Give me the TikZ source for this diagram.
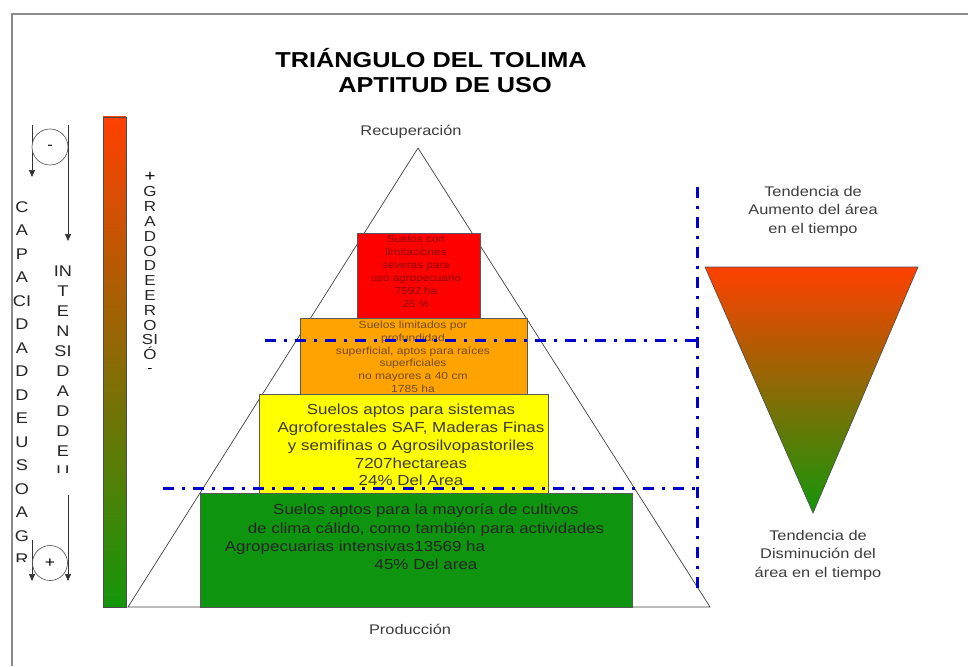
\documentclass[tikz,border=0pt]{standalone}
\usepackage{fontspec}
\setmainfont{Liberation Sans}[FakeStretch=1.17]
\usetikzlibrary{arrows.meta}

\definecolor{soilgreen}{RGB}{14,148,14}
\definecolor{soilyellow}{RGB}{255,255,0}
\definecolor{soilorange}{RGB}{255,163,0}
\definecolor{soilred}{RGB}{255,0,0}
\definecolor{gradtop}{RGB}{255,64,0}
\definecolor{gradmid}{RGB}{200,95,0}
\definecolor{gradbot}{RGB}{20,150,10}
\definecolor{limitblue}{RGB}{0,0,205}
\definecolor{labelgray}{RGB}{60,60,60}

\begin{document}
\begin{tikzpicture}%
    [x=1pt, y=-1pt,
    soilbox/.style={draw=black!65, line width=0.8pt, inner sep=0pt, anchor=north west},
    soiltext/.style={align=center, inner sep=0pt, anchor=north},
    vtext/.style={align=center, inner sep=0pt, anchor=north, text=black!85},
    ring/.style={circle, draw=black!70, fill=white, line width=0.6pt, inner sep=0pt},
    flow/.style={-{Triangle[length=7pt,width=6pt]}, black!80, line width=0.6pt},
    limit/.style={draw=limitblue, line width=3pt, dash pattern=on 11pt off 8pt on 3pt off 8pt},
    trend/.style={align=center, inner sep=0pt, text=labelgray, font=\fontsize{14}{18.5}\selectfont}]

    \useasboundingbox (0,0) rectangle (968,666);

    % frame
    \draw [black!45, line width=2pt] (12,666) -- (12,14) -- (968,14);

    % title
    \node [font=\bfseries\fontsize{21.6}{25}\selectfont, inner sep=0pt] (title1) at (431,58) {TRIÁNGULO DEL TOLIMA};
    \node [font=\bfseries\fontsize{21.6}{25}\selectfont, inner sep=0pt] (title2) at (445,85) {APTITUD DE USO};

    % erosion bar
    \shade [top color=gradtop, middle color=gradmid, bottom color=gradbot, draw=black!70, line width=0.6pt]
        (103,117) rectangle (126,607);

    % left columns
    \begin{scope}
        \clip (0,190) rectangle (45,561);
        \node [vtext, font=\fontsize{15.5}{23.5}\selectfont] (capacidad) at (22,201)
            {C\\A\\P\\A\\CI\\D\\A\\D\\D\\E\\U\\S\\O\\A\\G\\R};
    \end{scope}
    \begin{scope}
        \clip (45,250) rectangle (90,472);
        \node [vtext, font=\fontsize{15.5}{20}\selectfont] (intensidad) at (63,266)
            {IN\\T\\E\\N\\SI\\D\\A\\D\\D\\E\\U};
    \end{scope}
    \node [inner sep=0pt, font=\fontsize{16}{16}\selectfont] (plus) at (150,177) {+};
    \begin{scope}
        \clip (130,184) rectangle (175,358);
        \node [vtext, font=\fontsize{14.5}{14.8}\selectfont] (erosion) at (150,186.5)
            {G\\R\\A\\D\\O\\D\\E\\E\\R\\O\\SI\\Ó};
    \end{scope}
    \node [inner sep=0pt, font=\fontsize{13}{13}\selectfont] (minus) at (150,371) {-};

    % circles and arrows
    \coordinate (capA) at (32,125);
    \coordinate (capB) at (32,177);
    \coordinate (intA) at (68,125);
    \coordinate (intB) at (68,241);
    \coordinate (capC) at (32,540);
    \coordinate (capD) at (32,581);
    \coordinate (intC) at (68,495);
    \coordinate (intD) at (68,581);
    \draw [flow] (capA) -- (capB);
    \draw [flow] (intA) -- (intB);
    \draw [flow] (capC) -- (capD);
    \draw [flow] (intC) -- (intD);
    \node [ring, minimum size=36pt, font=\fontsize{14}{14}\selectfont] (less) at (50,147) {-};
    \node [ring, minimum size=35pt, font=\fontsize{15}{15}\selectfont] (more) at (50,563) {+};

    % pyramid
    \coordinate (apex) at (418,148);
    \coordinate (baseL) at (128,607);
    \coordinate (baseR) at (710,607);
    \draw [black!75, line width=0.7pt] (apex) -- (baseL) -- (baseR) -- cycle;
    \node [text=labelgray, inner sep=0pt, font=\fontsize{14}{16}\selectfont] (recup) at (411,132) {Recuperación};
    \node [text=labelgray, inner sep=0pt, font=\fontsize{14}{16}\selectfont] (produc) at (410,629) {Producción};

    \node [soilbox, fill=soilred, minimum width=123pt, minimum height=85pt] (red) at (357,233) {};
    \node [soilbox, fill=soilorange, minimum width=227pt, minimum height=76pt] (orange) at (300,318) {};
    \node [soilbox, fill=soilyellow, minimum width=289pt, minimum height=99pt] (yellow) at (259,394) {};
    \node [soilbox, fill=soilgreen, minimum width=432pt, minimum height=114pt] (green) at (200,493) {};

    \node [soiltext, text=red!55!black, font=\fontsize{10}{13}\selectfont] (redtext) at (416,235)
        {Suelos con\\limitaciones\\severas para\\uso agropecuario\\7592 ha\\25 \%};
    \node [soiltext, text=brown!60!black, font=\fontsize{10.3}{12.7}\selectfont] (orangetext) at (413,321)
        {Suelos limitados por\\profundidad\\superficial, aptos para raíces\\superficiales\\no mayores a 40 cm\\1785 ha};
    \node [soiltext, text=black!75!olive, font=\fontsize{14.5}{17.8}\selectfont] (yellowtext) at (411,404)
        {Suelos aptos para sistemas\\Agroforestales SAF, Maderas Finas\\y semifinas o Agrosilvopastoriles\\7207hectareas\\24\% Del Area};
    \node [soiltext, text=black!85, font=\fontsize{14.5}{18.3}\selectfont] (greentext) at (426,504)
        {Suelos aptos para la mayoría de cultivos\\de clima cálido, como también para actividades\\Agropecuarias intensivas13569 ha\rule{142pt}{0pt}\\45\% Del area};

    % limits
    \coordinate (topL) at (265,340);
    \coordinate (topR) at (697,340);
    \coordinate (lowL) at (163,488);
    \coordinate (lowR) at (697,488);
    \coordinate (vTop) at (697,187);
    \coordinate (vBot) at (697,592);
    \draw [limit] (topL) -- (topR);
    \draw [limit] (lowL) -- (lowR);
    \draw [limit] (vTop) -- (vBot);

    % trend triangle
    \coordinate (trendL) at (705,267);
    \coordinate (trendR) at (918,267);
    \coordinate (trendB) at (813,513);
    \shade [top color=gradtop, middle color=gradmid, bottom color=gradbot, draw=black!70, line width=0.6pt]
        (trendL) -- (trendR) -- (trendB) -- cycle;
    \node [trend] (growth) at (813,211) {Tendencia de\\Aumento del área\\en el tiempo};
    \node [trend] (decline) at (818,555) {Tendencia de\\Disminución del\\área en el tiempo};
\end{tikzpicture}
\end{document}
